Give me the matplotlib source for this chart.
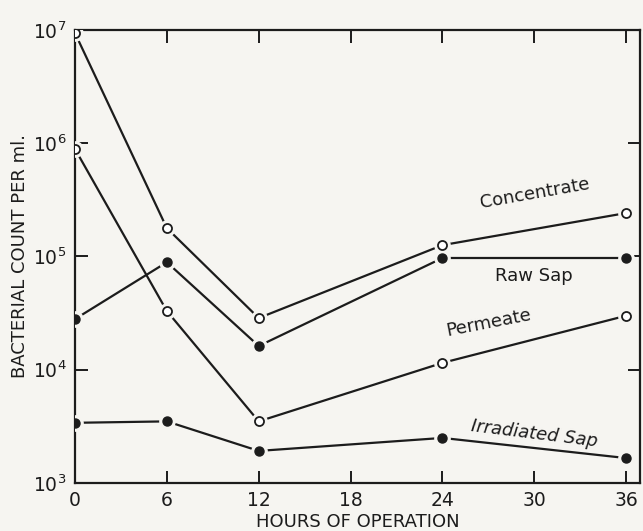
import matplotlib
matplotlib.use("Agg")
import matplotlib.pyplot as plt

# Hours of operation
hours = [0, 6, 12, 24, 36]

# Bacterial counts per ml
concentrate = [9.4e6, 1.78e5, 2.86e4, 1.26e5, 2.42e5]
raw_sap = [2.8e4, 8.9e4, 1.62e4, 9.7e4, 9.7e4]
permeate = [8.9e5, 3.3e4, 3.5e3, 1.15e4, 3.0e4]
irradiated_sap = [3.4e3, 3.5e3, 1.92e3, 2.5e3, 1.66e3]

x_ticks = [0, 6, 12, 18, 24, 30, 36]
y_ticks = [1e3, 1e4, 1e5, 1e6, 1e7]
y_tick_labels = ["$10^3$", "$10^4$", "$10^5$", "$10^6$", "$10^7$"]

ink = "#1c1c1c"
paper = "#f6f5f1"


def draw_series(ax, values, filled):
    ax.plot(hours, values, color=ink, lw=1.6, zorder=2)
    # white halo so lines stop short of the markers
    ax.plot(hours, values, "o", ms=11, color=paper, mec=paper, zorder=3)
    if filled:
        ax.plot(hours, values, "o", ms=6.5, color=ink, mec=ink, zorder=4)
    else:
        ax.plot(hours, values, "o", ms=6.5, mfc="white", mec=ink,
                mew=1.3, zorder=4)


def main():
    fig = plt.figure(figsize=(6.43, 5.31), dpi=100, facecolor=paper)
    ax = fig.add_axes([0.1166, 0.0904, 0.8787, 0.8531], facecolor=paper)

    draw_series(ax, concentrate, False)
    draw_series(ax, raw_sap, True)
    draw_series(ax, permeate, False)
    draw_series(ax, irradiated_sap, True)

    ax.set_yscale("log")
    ax.set_xlim(0, 36.9)
    ax.set_ylim(1e3, 1e7)
    ax.set_xticks(x_ticks)
    ax.set_yticks(y_ticks)
    ax.set_yticklabels(y_tick_labels)
    ax.minorticks_off()
    ax.tick_params(direction="in", length=9, width=1.4, color=ink,
                   labelsize=13.5, labelcolor=ink, top=True, right=True,
                   pad=6)
    for spine in ax.spines.values():
        spine.set_linewidth(1.6)
        spine.set_color(ink)

    ax.set_xlabel("HOURS OF OPERATION", fontsize=13, color=ink,
                  labelpad=2)
    ax.set_ylabel("BACTERIAL COUNT PER ml.", fontsize=13, color=ink,
                  labelpad=3)

    # curve labels
    ax.text(30, 2.45e5, "Concentrate", fontsize=13, color=ink,
            rotation=10, ha="center", va="bottom")
    ax.text(30, 8.0e4, "Raw Sap", fontsize=13, color=ink,
            ha="center", va="top")
    ax.text(27, 1.85e4, "Permeate", fontsize=13, color=ink,
            rotation=11, ha="center", va="bottom")
    ax.text(30, 1.95e3, "Irradiated Sap", fontsize=13, color=ink,
            rotation=-7, style="italic", ha="center", va="bottom")

    fig.savefig("out.png", dpi=100, facecolor=paper)


if __name__ == "__main__":
    main()
